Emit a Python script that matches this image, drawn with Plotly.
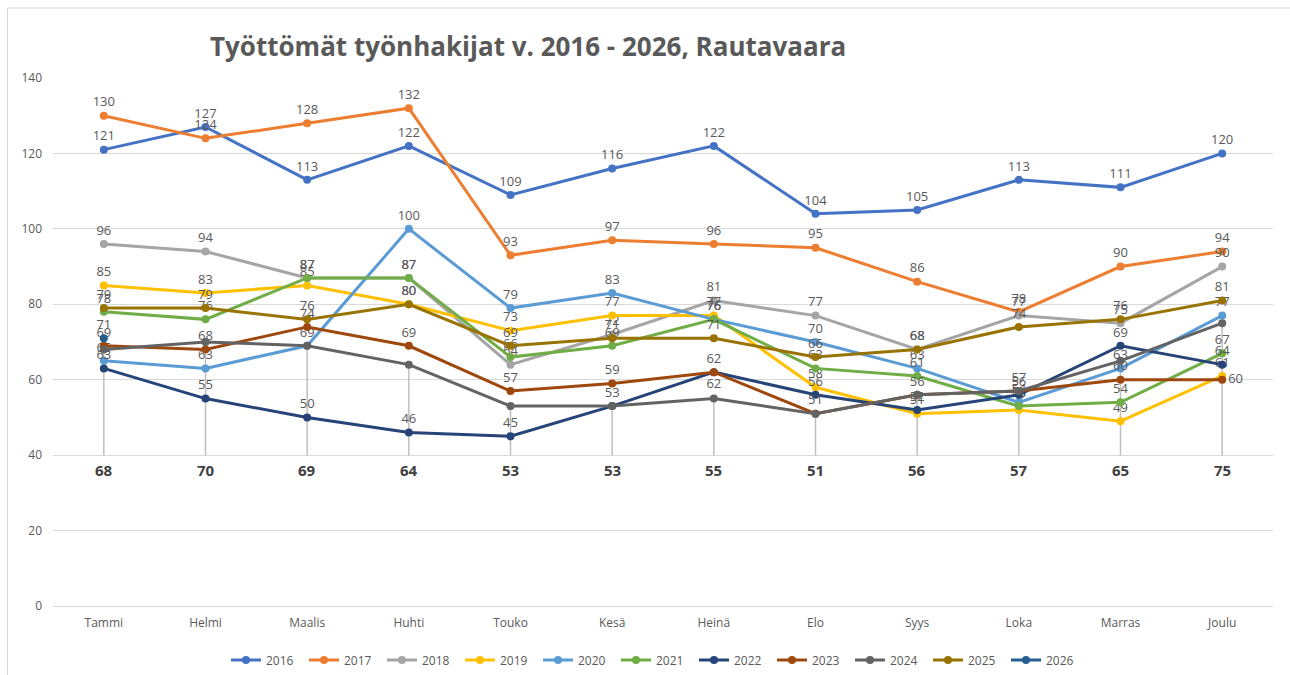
import plotly.graph_objects as go

months = ["Tammi", "Helmi", "Maalis", "Huhti", "Touko", "Kesä", "Heinä",
          "Elo", "Syys", "Loka", "Marras", "Joulu"]

s2016 = [121, 127, 113, 122, 109, 116, 122, 104, 105, 113, 111, 120]
s2017 = [130, 124, 128, 132, 93, 97, 96, 95, 86, 78, 90, 94]
s2018 = [96, 94, 87, 87, 64, 72, 81, 77, 68, 77, 75, 90]
s2019 = [85, 83, 85, 80, 73, 77, 77, 58, 51, 52, 49, 61]
s2020 = [65, 63, 69, 100, 79, 83, 76, 70, 63, 54, 63, 77]
s2021 = [78, 76, 87, 87, 66, 69, 76, 63, 61, 53, 54, 67]
s2022 = [63, 55, 50, 46, 45, 53, 62, 56, 52, 56, 69, 64]
s2023 = [69, 68, 74, 69, 57, 59, 62, 51, 56, 57, 60, 60]
s2024 = [68, 70, 69, 64, 53, 53, 55, 51, 56, 57, 65, 75]
s2025 = [79, 79, 76, 80, 69, 71, 71, 66, 68, 74, 76, 81]
s2026 = [71]

series = [
    ("2016", s2016, "#4472C4"),
    ("2017", s2017, "#ED7D31"),
    ("2018", s2018, "#A5A5A5"),
    ("2019", s2019, "#FFC000"),
    ("2020", s2020, "#5B9BD5"),
    ("2021", s2021, "#70AD47"),
    ("2022", s2022, "#264478"),
    ("2023", s2023, "#9E480E"),
    ("2024", s2024, "#636363"),
    ("2025", s2025, "#997300"),
    ("2026", s2026, "#255E91"),
]

label_color = "#595959"
font_family = "Open Sans"

fig = go.Figure()

# leader lines for the 2024 labels placed at the bottom
lx, ly = [], []
for m, v in zip(months, s2024):
    lx += [m, m, None]
    ly += [v, 40, None]
fig.add_trace(go.Scatter(x=lx, y=ly, mode="lines",
                         line=dict(color="#BFBFBF", width=1.5),
                         showlegend=False, hoverinfo="skip"))

for name, vals, color in series:
    n = len(vals)
    pos = ["top center"] * n
    if name == "2022":
        pos[6] = "bottom center"
    if name == "2023":
        pos[11] = "middle right"
    show_text = name != "2024"
    fig.add_trace(go.Scatter(
        x=months[:n], y=vals, name=name,
        mode="lines+markers+text" if show_text else "lines+markers",
        text=[str(v) for v in vals] if show_text else None,
        textposition=pos,
        textfont=dict(family=font_family, size=13, color=label_color),
        line=dict(color=color, width=3),
        marker=dict(color=color, size=8),
        cliponaxis=False,
    ))

for i, v in enumerate(s2024):
    fig.add_annotation(x=months[i], y=36, text=f"<b>{v}</b>", showarrow=False,
                       font=dict(family=font_family, size=15, color="#404040"),
                       xref="x", yref="y")

# chart area border (top and left edges visible)
fig.add_shape(type="line", xref="paper", yref="paper",
              x0=(7.5 - 53) / 1220, x1=1.02, y0=(606 - 8) / 528, y1=(606 - 8) / 528,
              line=dict(color="#D9D9D9", width=1))
fig.add_shape(type="line", xref="paper", yref="paper",
              x0=(7.5 - 53) / 1220, x1=(7.5 - 53) / 1220, y0=(606 - 8) / 528, y1=-0.2,
              line=dict(color="#D9D9D9", width=1))

fig.update_layout(
    width=1290, height=675,
    margin=dict(l=53, r=17, t=78, b=69, autoexpand=False),
    paper_bgcolor="white", plot_bgcolor="white",
    title=dict(text="<b>Työttömät työnhakijat v. 2016 - 2026, Rautavaara</b>",
               font=dict(family="Open Sans", size=26, color=label_color),
               x=210 / 1290, xanchor="left", xref="container",
               y=1 - 47 / 675, yanchor="middle", yref="container"),
    font=dict(family=font_family, size=12, color=label_color),
    xaxis=dict(type="category", categoryorder="array", categoryarray=months,
               range=[-0.5, 11.5], showgrid=False, showline=True,
               linecolor="#D9D9D9", linewidth=1, ticks="",
               tickfont=dict(size=12, color=label_color), ticklabelstandoff=6),
    yaxis=dict(range=[0, 140], tickvals=[0, 20, 40, 60, 80, 100, 120, 140],
               showgrid=True, gridcolor="#D9D9D9", gridwidth=1, zeroline=False,
               ticks="", tickfont=dict(size=12, color=label_color),
               ticklabelstandoff=10),
    legend=dict(orientation="h", x=(655 - 53) / 1220, xanchor="center",
                y=(606 - 660) / 528, yanchor="middle",
                entrywidth=33, entrywidthmode="pixels",
                font=dict(size=12, color=label_color), traceorder="normal"),
    showlegend=True,
)

fig.write_html("out.html", config={"displayModeBar": False},
               post_script="document.body.style.margin='0';")
